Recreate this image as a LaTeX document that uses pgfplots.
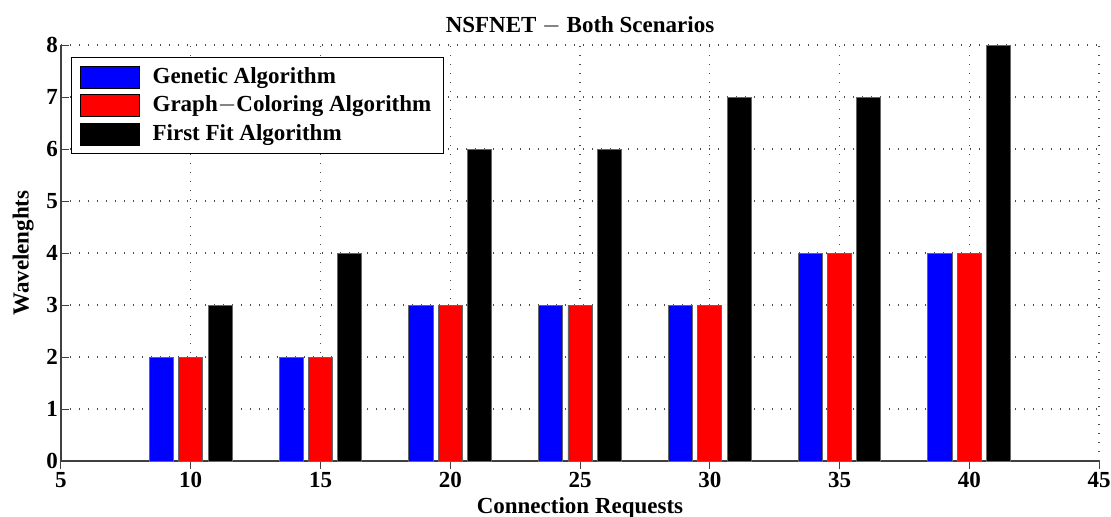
\documentclass[border=0pt]{standalone}
\usepackage{fontspec}
\setmainfont{Liberation Serif}
\usepackage{pgfplots}
\pgfplotsset{compat=1.18}
\begin{document}
\fontsize{11.5pt}{13pt}\selectfont\bfseries
\begin{tikzpicture}
\begin{axis}[
  scale only axis,
  width=519pt, height=208pt,
  xmin=5, xmax=45, ymin=0, ymax=8,
  xtick={5,10,...,45}, ytick={0,1,...,8},
  axis x line=bottom, axis y line=left,
  axis line style={-, draw=black!75, line width=0.8pt},
  tick style={draw=black!75, line width=0.5pt},
  tick align=inside,
  major tick length=4pt,
  grid=major,
  grid style={draw=black!70, line width=0.6pt, dash pattern=on 0.6pt off 3.9pt},
  /pgf/number format/assume math mode=true,
  ticklabel style={font=\fontsize{11.5pt}{13pt}\selectfont\bfseries},
  xticklabel style={yshift=2.5pt},
  yticklabel style={xshift=2.5pt},
  title={NSFNET $-$ Both Scenarios},
  title style={font=\fontsize{11.5pt}{13pt}\selectfont\bfseries, yshift=-5pt},
  xlabel={Connection Requests},
  ylabel={Wavelenghts},
  xlabel style={yshift=3pt},
  ylabel style={yshift=-1.5pt},
  ybar, bar width=0.93,
  legend style={at={(axis cs:5.39,7.77)}, anchor=north west, draw=black, line width=0.6pt,
     font=\fontsize{11.5pt}{13pt}\selectfont\bfseries,
     row sep=0.5pt, inner xsep=4pt, inner ysep=3pt, cells={anchor=west}},
  legend image code/.code={\draw[#1, draw=black, line width=0.5pt] (0pt,-5.5pt) rectangle (29.5pt,5.5pt); \path (34pt,0pt);},
  legend cell align=left,
]
\addplot[fill=blue, draw=black!60, line width=0.4pt, bar shift=-1.13] coordinates {(10,2) (15,2) (20,3) (25,3) (30,3) (35,4) (40,4)};
\addplot[fill=red, draw=black!60, line width=0.4pt, bar shift=0] coordinates {(10,2) (15,2) (20,3) (25,3) (30,3) (35,4) (40,4)};
\addplot[fill=black, draw=black!60, line width=0.4pt, bar shift=1.13] coordinates {(10,3) (15,4) (20,6) (25,6) (30,7) (35,7) (40,8)};
\legend{Genetic Algorithm, Graph{$-$}Coloring Algorithm, First Fit Algorithm}
\coordinate (o) at (rel axis cs:0,0);
\end{axis}
\pgfresetboundingbox
\path[use as bounding box] ([shift={(-30.5pt,-27.5pt)}]o) rectangle ([shift={(525pt,230.5pt)}]o);
\end{tikzpicture}
\end{document}
